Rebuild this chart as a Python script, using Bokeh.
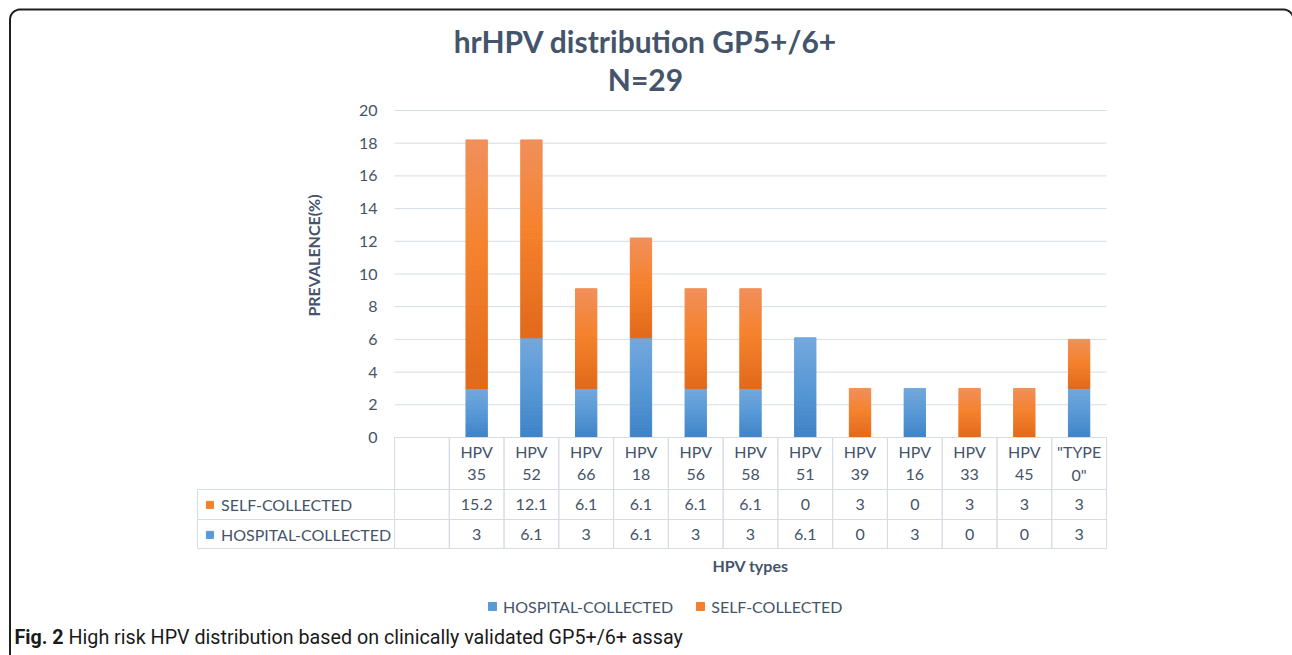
import math
from bokeh.plotting import figure
from bokeh.models import (ColumnDataSource, Range1d, Label, LabelSet,
                          BoxAnnotation, PolyAnnotation, Legend, LegendItem)
from bokeh.core.properties import value
from bokeh.embed import file_html
from bokeh.resources import INLINE

# ---------------- data ----------------
categories = ["HPV 35", "HPV 52", "HPV 66", "HPV 18", "HPV 56", "HPV 58", "HPV 51",
              "HPV 39", "HPV 16", "HPV 33", "HPV 45", '"TYPE 0"']
hospital_collected = [3, 6.1, 3, 6.1, 3, 3, 6.1, 0, 3, 0, 0, 3]
self_collected = [15.2, 12.1, 6.1, 6.1, 6.1, 6.1, 0, 3, 0, 3, 3, 3]
y_ticks = [0, 2, 4, 6, 8, 10, 12, 14, 16, 18, 20]
series_names = ["HOSPITAL-COLLECTED", "SELF-COLLECTED"]
title_lines = ["hrHPV distribution GP5+/6+", "N=29"]
x_title = "HPV types"
y_title = "PREVALENCE(%)"
caption_bold = "Fig. 2"
caption_text = "High risk HPV distribution based on clinically validated GP5+/6+ assay"

# ---------------- style / layout ----------------
TXT = "#44546A"
GRID = "#D6DCE5"
FONT = "Lato"
CAP_FONT = "Roboto"
BLUE_STOPS = [(0.0, "#3E83C6"), (0.55, "#5A9AD7"), (1.0, "#73A8DC")]
ORANGE_STOPS = [(0.0, "#E1691A"), (0.55, "#F5822D"), (1.0, "#F0905A")]
NB = 30  # gradient bands per bar segment

W, H = 1292, 655
PX_L, PX_R, PX_T, PX_B = 394, 1106, 110, 437      # plot area in page pixels
NSLOT = len(categories) + 1                        # first table column is empty
UX = (PX_R - PX_L) / NSLOT
UY = (PX_B - PX_T) / (y_ticks[-1] - y_ticks[0])


def SY(py):  # page y -> screen units (from bottom)
    return H - py


x_pos = [i + 1.5 for i in range(len(categories))]   # slot centres


def hex2rgb(h):
    h = h.lstrip("#")
    return tuple(int(h[i:i + 2], 16) for i in (0, 2, 4))


def grad(stops, f):
    for (p0, c0), (p1, c1) in zip(stops[:-1], stops[1:]):
        if p0 <= f <= p1:
            t = (f - p0) / (p1 - p0)
            a, b = hex2rgb(c0), hex2rgb(c1)
            return "#%02x%02x%02x" % tuple(round(a[i] + (b[i] - a[i]) * t) for i in range(3))
    return stops[-1][1]


def bands(xs, bottoms, tops, stops, n=NB):
    d = dict(x=[], bottom=[], top=[], color=[])
    for x, b, t in zip(xs, bottoms, tops):
        h = t - b
        if h <= 0:
            continue
        for k in range(n):
            d["x"].append(x)
            d["bottom"].append(b + h * k / n)
            d["top"].append(b + h * (k + 1) / n)
            d["color"].append(grad(stops, (k + 0.5) / n))
    return ColumnDataSource(d)


p = figure(width=W, height=H,
           x_range=Range1d(-PX_L / UX, (W - PX_L) / UX),
           y_range=Range1d(-(H - PX_B) / UY, PX_B / UY),
           min_border=0, output_backend="svg", toolbar_location=None,
           outline_line_color=None, background_fill_color="white",
           border_fill_color="white", title=None)
p.axis.visible = False
p.grid.visible = False

# gridlines and y tick labels
p.segment(x0=0, x1=NSLOT, y0=y_ticks, y1=y_ticks, line_color=GRID, line_width=1)
tick_src = ColumnDataSource(dict(y=y_ticks, t=[str(v) for v in y_ticks]))
p.add_layout(LabelSet(x=377, x_units="screen", y="y", text="t", source=tick_src,
                      text_align="right", text_baseline="middle",
                      text_font=value(FONT), text_font_size="16px", text_color=TXT))

# ---------------- stacked bars ----------------
BW = 0.39
tot = [h + s for h, s in zip(hospital_collected, self_collected)]
src_h = bands(x_pos, [0] * len(categories), hospital_collected, BLUE_STOPS)
src_s = bands(x_pos, hospital_collected, tot, ORANGE_STOPS)
r_h = p.vbar(x="x", bottom="bottom", top="top", width=BW, fill_color="color",
             line_color="color", line_width=1, source=src_h)
r_s = p.vbar(x="x", bottom="bottom", top="top", width=BW, fill_color="color",
             line_color="color", line_width=1, source=src_s)
MID = NB // 2

# ---------------- data table ----------------
for k in range(NSLOT):
    p.add_layout(BoxAnnotation(left=k, right=k + 1, top=SY(437), bottom=SY(548),
                               top_units="screen", bottom_units="screen",
                               fill_alpha=0, line_color=GRID, line_alpha=1, line_width=1))
for top, bot in [(489, 519), (519, 548)]:
    p.add_layout(BoxAnnotation(left=197, right=PX_R, left_units="screen", right_units="screen",
                               top=SY(top), bottom=SY(bot), top_units="screen",
                               bottom_units="screen", fill_alpha=0, line_color=GRID,
                               line_alpha=1, line_width=1))

tab = ColumnDataSource(dict(
    x=x_pos,
    l1=[c.split(" ", 1)[0] for c in categories],
    l2=[c.split(" ", 1)[1] for c in categories],
    s=[f"{v:g}" for v in self_collected],
    h=[f"{v:g}" for v in hospital_collected],
))
for field, py in [("l1", 451), ("l2", 474), ("s", 504), ("h", 533.5)]:
    p.add_layout(LabelSet(x="x", y=SY(py), y_units="screen", text=field, source=tab,
                          text_align="center", text_baseline="middle",
                          text_font=value(FONT), text_font_size="16px", text_color=TXT))

leg1 = Legend(items=[LegendItem(label=value(series_names[1]), renderers=[r_s], index=MID),
                     LegendItem(label=value(series_names[0]), renderers=[r_h], index=MID)],
              location=(205, SY(549)), orientation="vertical", glyph_width=9, glyph_height=9,
              label_standoff=7, label_height=30, spacing=0, padding=0, margin=0,
              border_line_color=None, background_fill_alpha=0,
              label_text_font=FONT, label_text_font_size="16px", label_text_color=TXT)
p.add_layout(leg1)

leg2 = Legend(items=[LegendItem(label=value(series_names[0]), renderers=[r_h], index=MID),
                     LegendItem(label=value(series_names[1]), renderers=[r_s], index=MID)],
              location=(487, SY(616)), orientation="horizontal", glyph_width=10, glyph_height=10,
              label_standoff=6, label_height=20, spacing=22, padding=0, margin=0,
              border_line_color=None, background_fill_alpha=0,
              label_text_font=FONT, label_text_font_size="16px", label_text_color=TXT)
p.add_layout(leg2)

# ---------------- titles ----------------
for txt, py in [(title_lines[0], 40), (title_lines[1], 78)]:
    p.add_layout(Label(x=645, y=SY(py), x_units="screen", y_units="screen", text=txt,
                       text_align="center", text_baseline="middle", text_font=FONT,
                       text_font_style="bold", text_font_size="30px", text_color=TXT))

p.add_layout(Label(x=313, y=SY(255), x_units="screen", y_units="screen", text=y_title,
                   angle=90, angle_units="deg", text_align="center", text_baseline="middle",
                   text_font=FONT, text_font_style="bold", text_font_size="16px", text_color=TXT))
p.add_layout(Label(x=(PX_L + PX_R) / 2, y=SY(565), x_units="screen", y_units="screen",
                   text=x_title, text_align="center", text_baseline="middle",
                   text_font=FONT, text_font_style="bold", text_font_size="16px", text_color=TXT))

# caption
p.add_layout(Label(x=14, y=SY(637), x_units="screen", y_units="screen", text=caption_bold,
                   text_align="left", text_baseline="middle", text_font=CAP_FONT,
                   text_font_style="bold", text_font_size="19.7px", text_color="#1a1a1a"))
p.add_layout(Label(x=68, y=SY(637), x_units="screen", y_units="screen", text=caption_text,
                   text_align="left", text_baseline="middle", text_font=CAP_FONT,
                   text_font_size="19.7px", text_color="#1a1a1a"))

# rounded border (right edge runs just past the picture, as in the reference)
L, T, R, B, RAD = 9.5, SY(9), 1293.0, -100.0, 10.0
bx, by = [L], [B]
for i in range(7):
    a = math.radians(180 - 90 * i / 6)
    bx.append(L + RAD + RAD * math.cos(a)); by.append(T - RAD + RAD * math.sin(a))
for i in range(7):
    a = math.radians(90 - 90 * i / 6)
    bx.append(R - RAD + RAD * math.cos(a)); by.append(T - RAD + RAD * math.sin(a))
bx.append(R); by.append(B)
p.add_layout(PolyAnnotation(xs=bx, ys=by, xs_units="screen", ys_units="screen",
                            fill_alpha=0, line_color="#1f1f1f", line_alpha=1, line_width=2))

open("out.html", "w").write(file_html(p, INLINE))
